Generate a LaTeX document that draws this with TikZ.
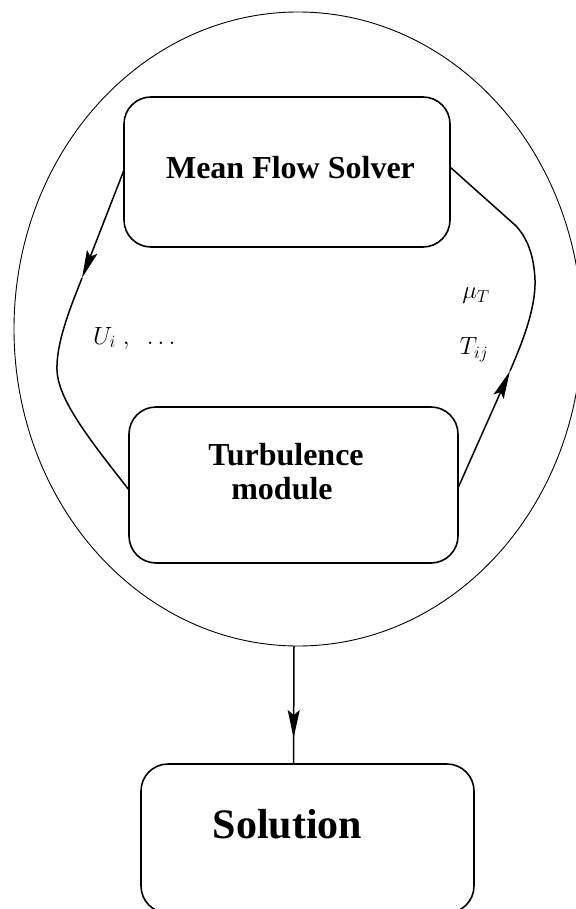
\documentclass[tikz,border=0pt]{standalone}
\usepackage{fontspec}
\setmainfont{Liberation Serif}
\usetikzlibrary{shapes.geometric,arrows.meta,decorations.markings}
\begin{document}
\begin{tikzpicture}[x=1pt,y=-1pt,
  box/.style={draw, line width=1.6pt, rounded corners=27pt, inner sep=0pt, outer sep=0pt},
  boxtext/.style={font=\bfseries\fontsize{32}{36}\selectfont, anchor=base, inner sep=0pt},
  flow/.style={line width=1.5pt},
  tiphead/.style={-{Stealth[length=28pt,width=11pt,inset=5pt]}},
  lab/.style={font=\fontsize{26}{30}\selectfont, inner sep=0pt}
]
\useasboundingbox (0,0) rectangle (575,909);
% enclosing ellipse
\node[draw, ellipse, line width=0.9pt, inner sep=0pt, outer sep=0pt,
      minimum width=568pt, minimum height=634pt] (ell) at (298,329) {};
% boxes
\node[box, minimum width=326pt, minimum height=150pt] (mfs) at (287,172) {};
\node[boxtext] (mfst) at (290.5,179) {Mean Flow Solver};
\node[box, minimum width=329pt, minimum height=156pt] (tm) at (293.5,485) {};
\node[boxtext] (tmt1) at (286,465) {Turbulence};
\node[boxtext] (tmt2) at (282,499) {module};
\node[box, minimum width=333pt, minimum height=149pt] (sol) at (307.5,838.5) {};
\node[boxtext, font=\bfseries\fontsize{42}{46}\selectfont] (solt) at (287.5,838) {Solution};
% labels
\node[lab, anchor=west] (ui) at (93,338) {$U_i\;,\ \ \ldots$};
\node[lab] (mu) at (476,296) {$\mu_T$};
\node[lab] (tij) at (474,350) {$T_{ij}$};
% left connector
\coordinate (tipL) at (82,278);
\draw[flow, tiphead] ([yshift=2pt]mfs.west) -- (tipL);
\draw[flow] (tipL) .. controls (74,299) and (56,340) .. (57,370)
  .. controls (58,400) and (90,440) .. ([yshift=-5pt]tm.west);
% right connector
\coordinate (tipR) at (510,371);
\draw[flow, tiphead] ([yshift=-3pt]tm.east) -- (tipR);
\draw[flow] (tipR) .. controls (518,352) and (536,312) .. (535,280)
  .. controls (534,255) and (527,237) .. (515,225) -- ([yshift=5pt]mfs.east);
% output arrow
\draw[flow, decoration={markings, mark=at position 0.78 with {\arrow{Stealth[length=28pt,width=12pt,inset=5pt]}}}, postaction=decorate]
  ([xshift=-4pt]ell.south) -- ([xshift=-14pt]sol.north);
\end{tikzpicture}
\end{document}
